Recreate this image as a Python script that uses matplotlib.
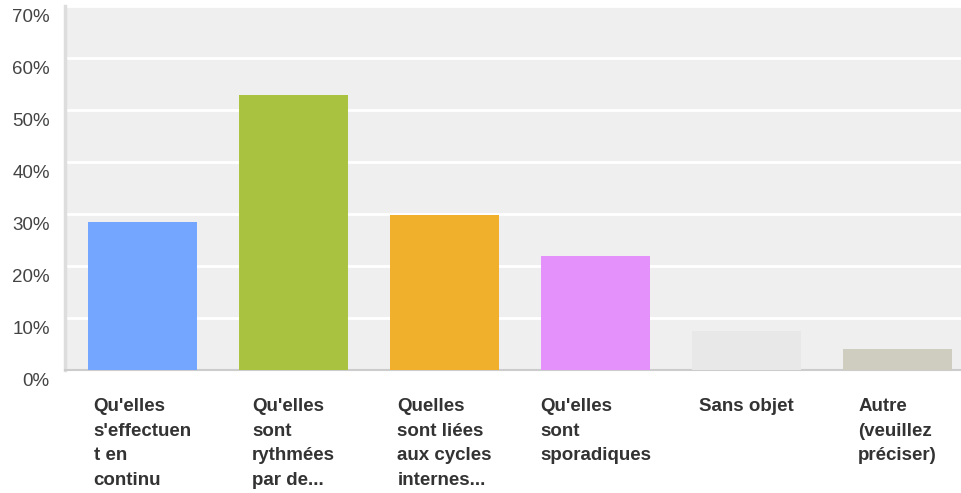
import matplotlib.pyplot as plt
import matplotlib.transforms as mtransforms
from matplotlib.ticker import FuncFormatter

plt.rcParams['font.family'] = ['Liberation Sans', 'DejaVu Sans']

categories = [
    "Qu'elles\ns'effectuen\nt en\ncontinu",
    "Qu'elles\nsont\nrythmées\npar de...",
    "Quelles\nsont liées\naux cycles\ninternes...",
    "Qu'elles\nsont\nsporadiques",
    "Sans objet",
    "Autre\n(veuillez\npréciser)",
]
values = [28.5, 52.9, 29.8, 21.9, 7.5, 4.0]
colors = ['#75a6ff', '#a9c23f', '#f0b02b', '#e491fb', '#e8e8e8', '#cfcdc0']
y_ticks = [0, 10, 20, 30, 40, 50, 60, 70]

fig = plt.figure(figsize=(9.61, 4.93), dpi=100)
ax = fig.add_axes([0.0676, 0.2495, 0.9324, 0.7385])
ax.set_facecolor('#efefef')

x = list(range(len(values)))
ax.bar(x, values, width=0.72, color=colors, zorder=3)

ax.set_xlim(-0.515, 5.42)
ax.set_ylim(0, 70)
ax.set_yticks(y_ticks)
ax.yaxis.set_major_formatter(FuncFormatter(lambda v, p: f"{int(v)}%"))
ax.grid(axis='y', color='white', linewidth=2, zorder=1)
ax.set_axisbelow(True)

for side in ['top', 'right']:
    ax.spines[side].set_visible(False)
ax.spines['left'].set_color('#dddddd')
ax.spines['left'].set_linewidth(2.5)
ax.spines['bottom'].set_color('#cccccc')
ax.spines['bottom'].set_linewidth(1.5)

ax.tick_params(axis='y', length=0, pad=11, labelsize=13.5, labelcolor='#444444')
ax.tick_params(axis='x', length=0, pad=20, labelsize=13.5, labelcolor='#333333')

offset = mtransforms.ScaledTranslation(0, -10 / 100, fig.dpi_scale_trans)
for lab in ax.get_yticklabels():
    lab.set_transform(lab.get_transform() + offset)

ax.set_xticks(x, categories)
for lab in ax.get_xticklabels():
    lab.set_fontweight('bold')
    lab.set_multialignment('left')
    lab.set_linespacing(1.6)

fig.savefig('out.png', dpi=100)
